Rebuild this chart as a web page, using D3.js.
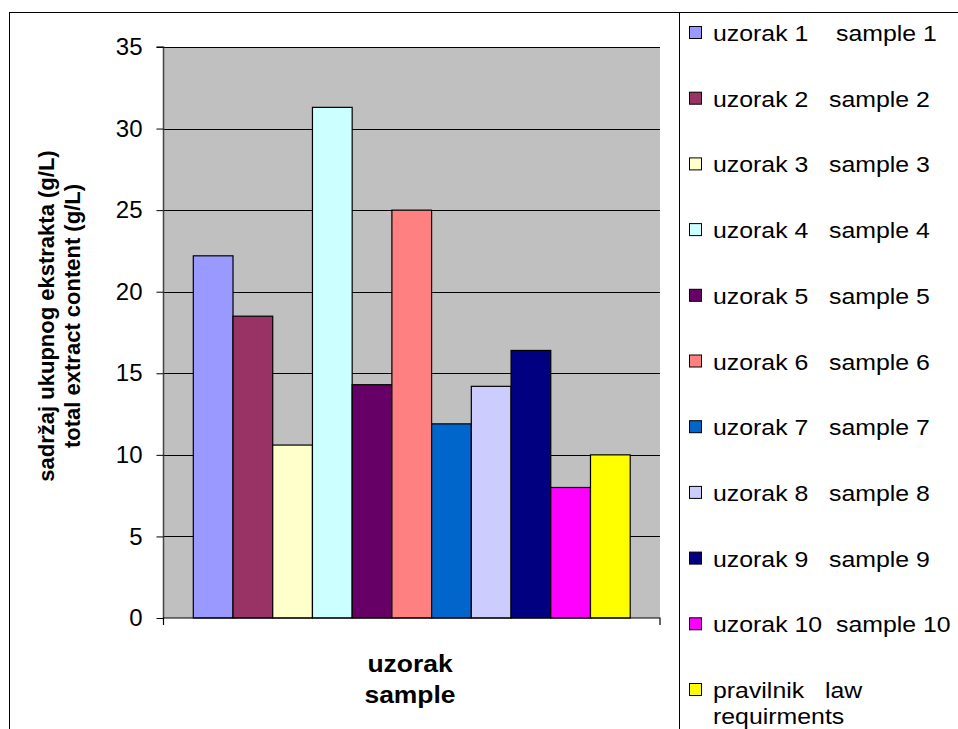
<!DOCTYPE html>
<html><head><meta charset="utf-8">
<script src="https://cdn.jsdelivr.net/npm/d3@7"></script>
<style>body{margin:0;background:#fff}svg{display:block;font-family:"Liberation Sans",Arial,sans-serif}</style>
</head><body><svg id="c" width="958" height="729"></svg>
<script>
const categories = ["uzorak 1    sample 1","uzorak 2   sample 2","uzorak 3   sample 3","uzorak 4   sample 4","uzorak 5   sample 5","uzorak 6   sample 6","uzorak 7   sample 7","uzorak 8   sample 8","uzorak 9   sample 9","uzorak 10  sample 10","pravilnik   law|requirments"];
const values = [22.2, 18.5, 10.6, 31.3, 14.3, 25.0, 11.9, 14.2, 16.4, 8.0, 10.0];
const colors = ["#9999FF","#993366","#FFFFCC","#CCFFFF","#660066","#FF8080","#0066CC","#CCCCFF","#000080","#FF00FF","#FFFF00"];
const yTicks = [0,5,10,15,20,25,30,35];
const yTitle = ["sadržaj ukupnog ekstrakta (g/L)","total extract content (g/L)"];
const xTitle = ["uzorak","sample"];

const svg = d3.select("#c");
const L = 163.5, R = 660, T = 47, B = 618;
// outer frame
svg.append("rect").attr("x",9.5).attr("y",12.5).attr("width",1000).attr("height",1000).attr("fill","none").attr("stroke","#000").attr("stroke-width",1);
svg.append("line").attr("x1",679.5).attr("x2",679.5).attr("y1",12.5).attr("y2",729).attr("stroke","#000");

const y = d3.scaleLinear().domain([0,35]).range([B,T]);

svg.append("rect").attr("x",L).attr("y",T).attr("width",R-L).attr("height",B-T).attr("fill","#C0C0C0");
// grid
svg.append("g").selectAll("line").data(yTicks.filter(d=>d>0)).join("line")
  .attr("x1",L).attr("x2",R).attr("y1",d=>Math.round(y(d))+0.5).attr("y2",d=>Math.round(y(d))+0.5)
  .attr("stroke","#000").attr("stroke-width",1);

// bars (single category, gap width 150%)
const n = values.length;
const bw = (R-L) / (n + 1.5);
const xb = d3.scaleBand().domain(d3.range(n)).range([L + 0.75*bw, R - 0.75*bw]).padding(0);
svg.append("g").selectAll("rect").data(values).join("rect")
  .attr("x",(d,i)=>xb(i)).attr("width",xb.bandwidth()).attr("y",d=>y(d)).attr("height",d=>B-y(d))
  .attr("fill",(d,i)=>colors[i]).attr("stroke","#000").attr("stroke-width",1.2);

// y axis
const ya = svg.append("g").attr("transform",`translate(${L},0)`).call(d3.axisLeft(y).tickValues(yTicks).tickSize(7).tickPadding(14));
ya.select(".domain").attr("stroke","#444").attr("stroke-width",1.5).attr("d",`M-7,${T}H0V${B}`);
ya.selectAll(".tick line").attr("stroke","#000");
ya.selectAll(".tick text").attr("font-size",24).attr("fill","#000").attr("font-family","Liberation Sans, Arial");
// x axis line
svg.append("path").attr("d",`M${L},${B+7}V${B}H${R}V${B+7}`).attr("fill","none").attr("stroke","#000").attr("stroke-width",1.2);

// y title
const yt = svg.append("text").attr("transform",`translate(54,316) rotate(-90)`).attr("text-anchor","middle").attr("font-weight","bold").attr("font-size",22);
yTitle.forEach((t,i)=>yt.append("tspan").attr("x",0).attr("dy",i?26:0).text(t));
// x title
const xt = svg.append("text").attr("transform","translate(410,0) scale(1.15,1)").attr("text-anchor","middle").attr("font-weight","bold").attr("font-size",23);
xTitle.forEach((t,i)=>xt.append("tspan").attr("x",0).attr("y",i?703:672).text(t));

// legend
const lg = svg.append("g").selectAll("g").data(categories).join("g")
  .attr("transform",(d,i)=>`translate(689,${33+i*65.7})`);
lg.append("rect").attr("x",0.5).attr("y",-6.5).attr("width",12).attr("height",12).attr("fill",(d,i)=>colors[i]).attr("stroke","#000");
lg.each(function(d){
  const t = d3.select(this).append("text").attr("transform","translate(24,0) scale(1.13,1)").attr("font-size",22).attr("xml:space","preserve").style("white-space","pre");
  d.split("|").forEach((s,j)=>t.append("tspan").attr("x",0).attr("y",8+j*26).text(s));
});
</script></body></html>
